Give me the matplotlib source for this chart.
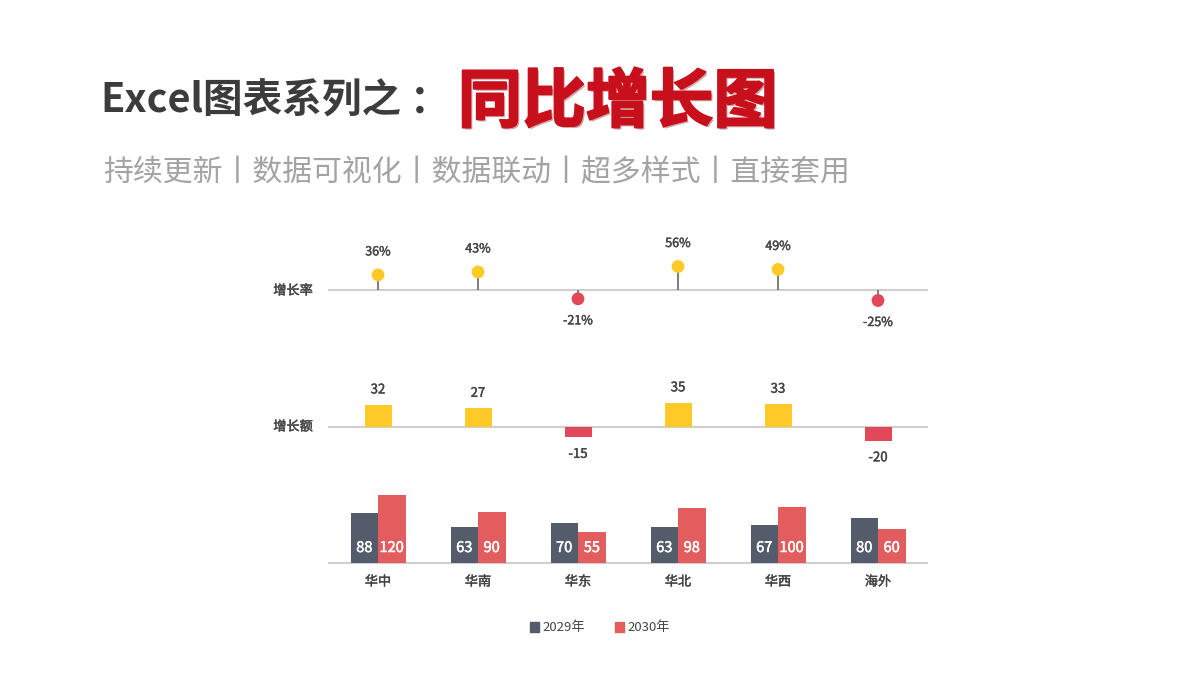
import matplotlib.pyplot as plt
import matplotlib.patheffects as pe
from matplotlib.patches import Patch

plt.rcParams['font.family'] = ['Noto Sans CJK SC', 'DejaVu Sans']

# data
regions = ['华中', '华南', '华东', '华北', '华西', '海外']
sales_2029 = [88, 63, 70, 63, 67, 80]
sales_2030 = [120, 90, 55, 98, 100, 60]
growth_amt = [32, 27, -15, 35, 33, -20]
growth_pct = [36, 43, -21, 56, 49, -25]
legend_labels = ['2029年', '2030年']

W, H = 1200, 675
fig = plt.figure(figsize=(12, 6.75), dpi=100)
fig.patch.set_facecolor('white')

YELLOW = '#ffc928'
RED = '#e2475a'
DARK = '#545b6b'
RED2 = '#e35d5f'
TXT = '#444444'

# a touch heavier than regular
semi = [pe.withStroke(linewidth=0.3, foreground=TXT)]
semi_w = [pe.withStroke(linewidth=0.35, foreground='white')]


def panel(top, bottom, zero, scale):
    # axes placed in pixel rows, zero line at pixel row `zero`
    ax = fig.add_axes([328 / W, 1 - bottom / H, 600 / W, (bottom - top) / H])
    ax.set_xlim(-0.5, len(regions) - 0.5)
    ax.set_ylim((zero - bottom) / scale, (zero - top) / scale)
    ax.axis('off')
    ax.axhline(0, color='#cfcfcf', lw=1.5, zorder=1)
    return ax


x = list(range(len(regions)))

# growth rate lollipops
ax1 = panel(220, 345, 290, 0.42)
for i, v in zip(x, growth_pct):
    c = YELLOW if v > 0 else RED
    ax1.vlines(i, 0, v, color='#666666', lw=1.2, zorder=2)
    ax1.scatter(i, v, s=85, color=c, zorder=3, edgecolors='none')
    ax1.annotate(f'{v}%', (i, v), xytext=(0, 23 if v > 0 else -22),
                 textcoords='offset pixels', ha='center', va='center',
                 fontsize=9, color=TXT, path_effects=semi)

# growth amount bars
ax2 = panel(370, 475, 427, 0.69)
ax2.bar(x, growth_amt, width=0.27,
        color=[YELLOW if v > 0 else RED for v in growth_amt], zorder=2)
for i, v in zip(x, growth_amt):
    ax2.annotate(str(v), (i, v), xytext=(0, 15 if v > 0 else -17),
                 textcoords='offset pixels', ha='center', va='center',
                 fontsize=9.5, color=TXT, path_effects=semi)

# yearly values
ax3 = panel(480, 600, 563, 0.565)
w = 0.275
ax3.bar([i - w / 2 for i in x], sales_2029, width=w, color=DARK, zorder=2)
ax3.bar([i + w / 2 for i in x], sales_2030, width=w, color=RED2, zorder=2)
for i in x:
    ax3.annotate(str(sales_2029[i]), (i - w / 2, 0), xytext=(0, 15),
                 textcoords='offset pixels', ha='center', va='center',
                 fontsize=10.5, color='white', path_effects=semi_w)
    ax3.annotate(str(sales_2030[i]), (i + w / 2, 0), xytext=(0, 15),
                 textcoords='offset pixels', ha='center', va='center',
                 fontsize=10.5, color='white', path_effects=semi_w)
    ax3.annotate(regions[i], (i, 0), xytext=(0, -19),
                 textcoords='offset pixels', ha='center', va='center',
                 fontsize=9.5, color=TXT, path_effects=semi)

fig.text(313 / W, 1 - 291 / H, '增长率', ha='right', va='center', fontsize=9.5,
         color=TXT, path_effects=semi)
fig.text(313 / W, 1 - 427 / H, '增长额', ha='right', va='center', fontsize=9.5,
         color=TXT, path_effects=semi)

handles = [Patch(color=DARK), Patch(color=RED2)]
fig.legend(handles, legend_labels, loc='center', bbox_to_anchor=(600 / W, 1 - 628 / H),
           ncol=2, frameon=False, fontsize=9.5, handlelength=0.7, handleheight=0.7,
           handletextpad=0.3, columnspacing=2.2, labelcolor=TXT)

# titles
fig.text(100 / W, 1 - 101 / H, 'Excel图表系列之', fontsize=28.5, weight='bold',
         color='#3c3c3c', va='center')
fig.text(410 / W, 1 - 101 / H, '：', fontsize=28.5, weight='bold',
         color='#3c3c3c', va='center')
fig.text(458 / W, 1 - 103 / H, '同比增长图', fontsize=46, weight='heavy',
         color='#c8101c', va='center',
         path_effects=[pe.SimplePatchShadow(offset=(1.5, -1.5), shadow_rgbFace='#7a0a0a', alpha=0.35),
                       pe.Stroke(linewidth=1.5, foreground='#c8101c'), pe.Normal()])
fig.text(103 / W, 1 - 173 / H, '持续更新丨数据可视化丨数据联动丨超多样式丨直接套用',
         fontsize=21.5, color='#a3a3a3', va='center')

fig.savefig('out.png', dpi=100)
